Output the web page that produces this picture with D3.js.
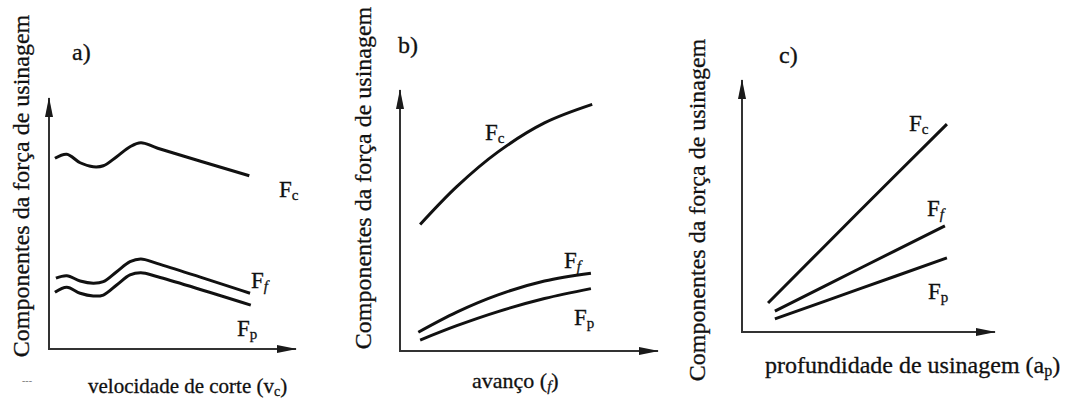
<!DOCTYPE html>
<html>
<head>
<meta charset="utf-8">
<script src="https://cdn.jsdelivr.net/npm/d3@7"></script>
<style>
  html, body { margin: 0; padding: 0; background: #fff; }
</style>
</head>
<body>
<svg id="chart" width="1065" height="398"></svg>
<script>
// Qualitative trends of the machining force components (unit-less 0–10 scales)

const yTitle = "Componentes da força de usinagem";
const panelTags = ["a)", "b)", "c)"];
const xTitleMain = ["velocidade de corte (v", "avanço (", "profundidade de usinagem (a"];
const xTitleSub = ["c", "f", "p"];
const componentSubs = ["c", "f", "p"];   // F_c, F_f, F_p

// a) versus cutting speed
const speedFc = [[0.24, 7.60], [0.72, 7.76], [1.26, 7.42], [1.79, 7.26], [2.20, 7.30], [2.74, 7.66], [3.28, 8.06], [3.72, 8.22], [4.40, 8.00], [8.11, 6.90]];
const speedFf = [[0.28, 2.82], [0.72, 2.92], [1.26, 2.71], [1.79, 2.62], [2.20, 2.68], [2.74, 3.08], [3.28, 3.48], [3.72, 3.59], [4.40, 3.40], [8.14, 2.22]];
const speedFp = [[0.24, 2.26], [0.72, 2.46], [1.26, 2.22], [1.79, 2.11], [2.20, 2.15], [2.74, 2.55], [3.28, 2.95], [3.72, 3.04], [4.40, 2.88], [8.17, 1.75]];

// b) versus feed
const feedFc = [[0.78, 4.85], [2.20, 6.30], [3.80, 7.63], [5.60, 8.74], [7.45, 9.45]];
const feedFf = [[0.71, 0.72], [2.20, 1.49], [3.80, 2.15], [5.60, 2.68], [7.40, 2.98]];
const feedFp = [[0.78, 0.42], [2.20, 0.97], [3.80, 1.51], [5.60, 2.01], [7.40, 2.39]];

// c) versus depth of cut
const depthFc = [[1.03, 1.15], [4.55, 4.70], [8.10, 8.25]];
const depthFf = [[1.30, 0.83], [4.65, 2.52], [8.02, 4.21]];
const depthFp = [[1.30, 0.52], [4.70, 1.73], [8.10, 2.94]];

const panelSeries = [
  [speedFc, speedFf, speedFp],
  [feedFc, feedFf, feedFp],
  [depthFc, depthFf, depthFp]
];

// Pixel frame of each panel: x-axis span, y-axis span, label placements
const frames = [
  { x: [49, 296], y: [349, 98], tag: [72, 60], yTitleX: 29, yTitleY: 186, xTitle: [88, 393], xSize: 21,
    comp: [[279, 197], [251, 288], [237, 336]] },
  { x: [400, 658], y: [351, 90], tag: [398, 53], yTitleX: 371, yTitleY: 178, xTitle: [472, 388], xSize: 22,
    comp: [[485, 140], [564, 268], [574, 325]] },
  { x: [742, 995], y: [332, 80], tag: [779, 63], yTitleX: 705, yTitleY: 210, xTitle: [765, 373], xSize: 24,
    comp: [[909, 131], [927, 216], [928, 299]] }
];

const serif = "Liberation Serif";
const svg = d3.select("#chart");
const defs = svg.append("defs");

defs.append("marker")
  .attr("id", "head")
  .attr("viewBox", "0 0 20 8")
  .attr("refX", 19).attr("refY", 4)
  .attr("markerUnits", "userSpaceOnUse")
  .attr("markerWidth", 20).attr("markerHeight", 8)
  .attr("orient", "auto")
  .append("path")
  .attr("d", "M0,0 L20,4 L0,8 Z")
  .attr("fill", "#1a1a1a");

const line = d3.line().curve(d3.curveCatmullRom.alpha(0.5));

function label(sel, x, y, size) {
  return sel.append("text").attr("x", x).attr("y", y)
    .style("font-family", serif).style("font-size", size + "px")
    .attr("fill", "#111").attr("stroke", "#111").attr("stroke-width", 0.3);
}

frames.forEach((f, i) => {
  const x = d3.scaleLinear().domain([0, 10]).range(f.x);
  const y = d3.scaleLinear().domain([0, 10]).range(f.y);
  const g = svg.append("g");

  // axes: plain lines along each scale with arrowheads
  g.append("line")
    .attr("x1", x(0) - 1).attr("y1", y(0)).attr("x2", x(10)).attr("y2", y(0))
    .attr("stroke", "#333").attr("stroke-width", 2).attr("marker-end", "url(#head)");
  g.append("line")
    .attr("x1", x(0)).attr("y1", y(0) + 1).attr("x2", x(0)).attr("y2", y(10))
    .attr("stroke", "#333").attr("stroke-width", 2).attr("marker-end", "url(#head)");

  // curves
  panelSeries[i].forEach(s => {
    g.append("path")
      .attr("d", line(s.map(d => [x(d[0]), y(d[1])])))
      .attr("fill", "none")
      .attr("stroke", "#111")
      .attr("stroke-width", 3);
  });

  // component labels
  componentSubs.forEach((sub, k) => {
    const t = label(g, f.comp[k][0], f.comp[k][1], 23);
    t.append("tspan").text("F");
    t.append("tspan").style("font-size", "15px").attr("dy", 3)
      .style("font-style", sub === "f" ? "italic" : "normal").text(sub);
  });

  // panel tag
  label(g, f.tag[0], f.tag[1], 24).text(panelTags[i]);

  // vertical title
  label(g, 0, 0, 24)
    .attr("transform", `translate(${f.yTitleX},${f.yTitleY}) rotate(-90)`)
    .attr("text-anchor", "middle")
    .text(yTitle);

  // horizontal title with subscript
  const xt = label(g, f.xTitle[0], f.xTitle[1], f.xSize);
  xt.append("tspan").text(xTitleMain[i]);
  xt.append("tspan").style("font-size", Math.round(f.xSize * 0.68) + "px").attr("dy", 3)
    .style("font-style", i === 1 ? "italic" : "normal").text(xTitleSub[i]);
  xt.append("tspan").attr("dy", -3).text(")");
});

// small stray mark near the first panel
svg.append("text").attr("x", 22).attr("y", 384).style("font-size", "10px")
  .attr("fill", "#777").text("---");
</script>
</body>
</html>
